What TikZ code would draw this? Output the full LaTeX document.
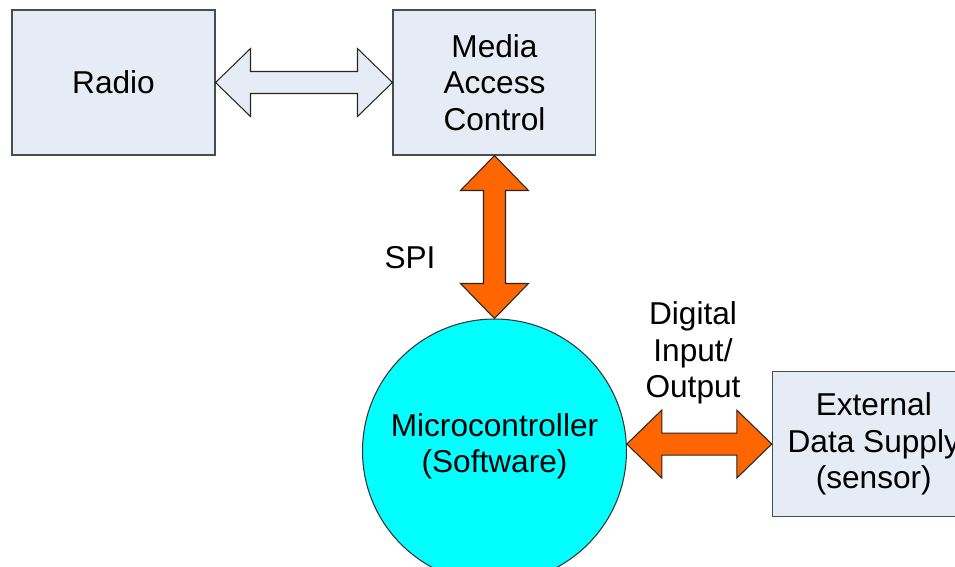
\documentclass[tikz,border=0pt]{standalone}
\usepackage{fontspec}
\setmainfont{Liberation Sans}
\usetikzlibrary{positioning,calc}

\definecolor{boxfill}{RGB}{230,236,246}
\definecolor{chipcyan}{RGB}{0,255,255}
\definecolor{busorange}{RGB}{255,102,0}

% fat two-headed arrow between two points
\newcommand\twoway[3][]{%
  \def\tiplen{0.7cm}\def\tiphalf{0.68cm}\def\shafthalf{0.22cm}%
  \draw[#1] (#2) -- ($(#2)!\tiplen!(#3)!\tiphalf!90:(#3)$) -- ($(#2)!\tiplen!(#3)!\shafthalf!90:(#3)$)
    -- ($(#3)!\tiplen!(#2)!\shafthalf!-90:(#2)$) -- ($(#3)!\tiplen!(#2)!\tiphalf!-90:(#2)$) -- (#3)
    -- ($(#3)!\tiplen!(#2)!\tiphalf!90:(#2)$) -- ($(#3)!\tiplen!(#2)!\shafthalf!90:(#2)$)
    -- ($(#2)!\tiplen!(#3)!\shafthalf!-90:(#3)$) -- ($(#2)!\tiplen!(#3)!\tiphalf!-90:(#3)$) -- cycle;}

\begin{document}
\begin{tikzpicture}[x=0.02cm, y=-0.02cm,
  every node/.style={align=center, font=\fontsize{18}{20.7}\selectfont},
  block/.style={draw=black!70, line width=0.6pt, fill=boxfill, minimum width=4.06cm, minimum height=2.9cm, inner sep=0pt},
  chip/.style={circle, draw=black!80, line width=0.6pt, fill=chipcyan, minimum size=5.28cm, inner sep=0pt, text depth=0.31cm},
  bus/.style={draw=black!85, line width=0.6pt, fill=busorange, line join=miter},
  link/.style={draw=black!85, line width=0.6pt, fill=boxfill, line join=miter}]
\clip (0,0) rectangle (955,566);
\node (radio) [block] at (113.5,82.5) {Radio};
\node (mac) [block, right=3.54cm of radio] {Media\\Access\\Control};
\node (mcu) [chip, below=3.26cm of mac] {Microcontroller\\(Software)};
\node (ext) [block, right=2.9cm of mcu.3] {External\\Data Supply\\(sensor)};
\node (spi) at (410,258) {SPI};
\node (dio) at (693,353) {Digital\\Input/\\Output};
\twoway[link]{radio.east}{mac.west}
\twoway[bus]{mac.south}{mcu.north}
\twoway[bus]{mcu.3}{ext.west}
\end{tikzpicture}
\end{document}
